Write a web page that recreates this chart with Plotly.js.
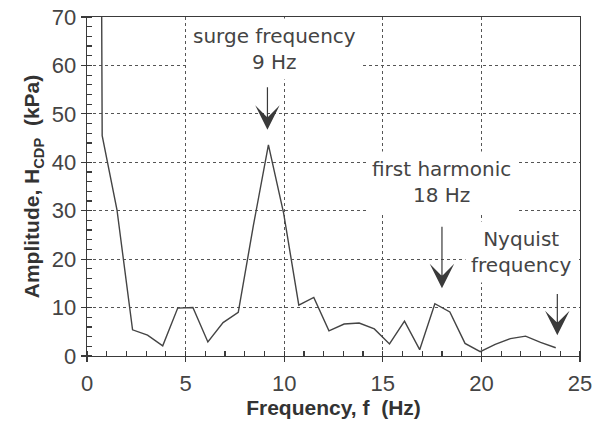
<!DOCTYPE html>
<html>
<head>
<meta charset="utf-8">
<script src="https://cdn.plot.ly/plotly-3.0.1.min.js"></script>
<style>html,body{margin:0;padding:0;background:#fff;}#chart{width:601px;height:423px;}</style>
</head>
<body>
<div id="chart"></div>
<script>
// Spectrum of the pressure signal (frequency in Hz, amplitude in kPa)
var frequency = [0, 0.77, 1.52, 2.31, 3.07, 3.84, 4.6, 5.37, 6.13, 6.9, 7.67, 8.44, 9.2, 9.97, 10.74, 11.5, 12.27, 13.04, 13.8, 14.57, 15.34, 16.1, 16.87, 17.64, 18.4, 19.17, 19.94, 20.7, 21.47, 22.24, 23.0, 23.77];
var amplitude = [800, 45.5, 30.2, 5.4, 4.3, 2.1, 9.9, 10.0, 2.9, 6.9, 9.0, 27, 43.6, 29.5, 10.5, 12.1, 5.2, 6.6, 6.8, 5.6, 2.5, 7.2, 1.3, 10.8, 9.1, 2.6, 0.9, 2.4, 3.6, 4.1, 2.8, 1.7];

// Callouts: label text, label position, arrow tip and arrow tail
var calloutText = ['surge frequency<br>9 Hz', 'first harmonic<br>18 Hz', 'Nyquist<br>frequency'];
var calloutTextX = [9.5, 17.97, 22.03];
var calloutTextY = [63.4, 35.9, 21.4];
var arrowX = [9.15, 18.0, 23.85];
var arrowTipY = [46.7, 14.0, 4.3];
var arrowTailY = [55.8, 27.0, 13.1];

var xTickVals = [0, 5, 10, 15, 20, 25];
var yTickVals = [0, 10, 20, 30, 40, 50, 60, 70];

var ink = '#3a3a3a';
var tickFont = {family: 'Liberation Sans, Arial, sans-serif', size: 22, color: '#444'};

var annotations = [];
for (var i = 0; i < calloutText.length; i++) {
  annotations.push({
    x: arrowX[i], y: arrowTipY[i], xref: 'x', yref: 'y',
    ax: arrowX[i], ay: arrowTailY[i], axref: 'x', ayref: 'y',
    text: '', showarrow: true, arrowhead: 3, arrowsize: 3.4, arrowwidth: 1.2,
    arrowcolor: ink, standoff: 0
  });
  annotations.push({
    x: calloutTextX[i], y: calloutTextY[i], xref: 'x', yref: 'y',
    text: calloutText[i], showarrow: false, align: 'center',
    bgcolor: '#ffffff', borderpad: 5,
    font: {family: 'DejaVu Sans, sans-serif', size: 20, color: '#444'}
  });
}

var axisCommon = {
  showline: true, mirror: true, linecolor: ink, linewidth: 1.3,
  ticks: 'outside', ticklen: 5, tickwidth: 1.2, tickcolor: ink,
  showgrid: true, gridcolor: '#555', griddash: 'dot', gridwidth: 1,
  zeroline: false, tickfont: tickFont, fixedrange: true
};

var layout = {
  width: 601, height: 423,
  margin: {l: 87, r: 21, t: 17, b: 67},
  paper_bgcolor: '#fff', plot_bgcolor: '#fff',
  showlegend: false,
  xaxis: Object.assign({}, axisCommon, {
    range: [0, 25], tickvals: xTickVals, ticklabelstandoff: 2,
    minor: {dtick: 1, ticks: 'inside', ticklen: 5, tickcolor: ink, showgrid: false},
    title: {text: 'Frequency, f  (Hz)', standoff: 5,
            font: {family: 'Liberation Sans, Arial, sans-serif', size: 21, color: '#333', weight: 'bold'}}
  }),
  yaxis: Object.assign({}, axisCommon, {
    range: [0, 70], tickvals: yTickVals,
    minor: {dtick: 2, ticks: 'inside', ticklen: 5, tickcolor: ink, showgrid: false},
    title: {text: 'Amplitude, H<sub>CDP</sub>\u00a0\u00a0(kPa)\u00a0\u00a0\u00a0\u00a0\u00a0\u00a0', standoff: 6,
            font: {family: 'Liberation Sans, Arial, sans-serif', size: 21, color: '#333', weight: 'bold'}}
  }),
  annotations: annotations
};

var trace = {
  x: frequency, y: amplitude, type: 'scatter', mode: 'lines',
  line: {color: '#444', width: 1.4}, hoverinfo: 'skip', cliponaxis: true
};

Plotly.newPlot('chart', [trace], layout, {displayModeBar: false, staticPlot: true});
</script>
</body>
</html>
